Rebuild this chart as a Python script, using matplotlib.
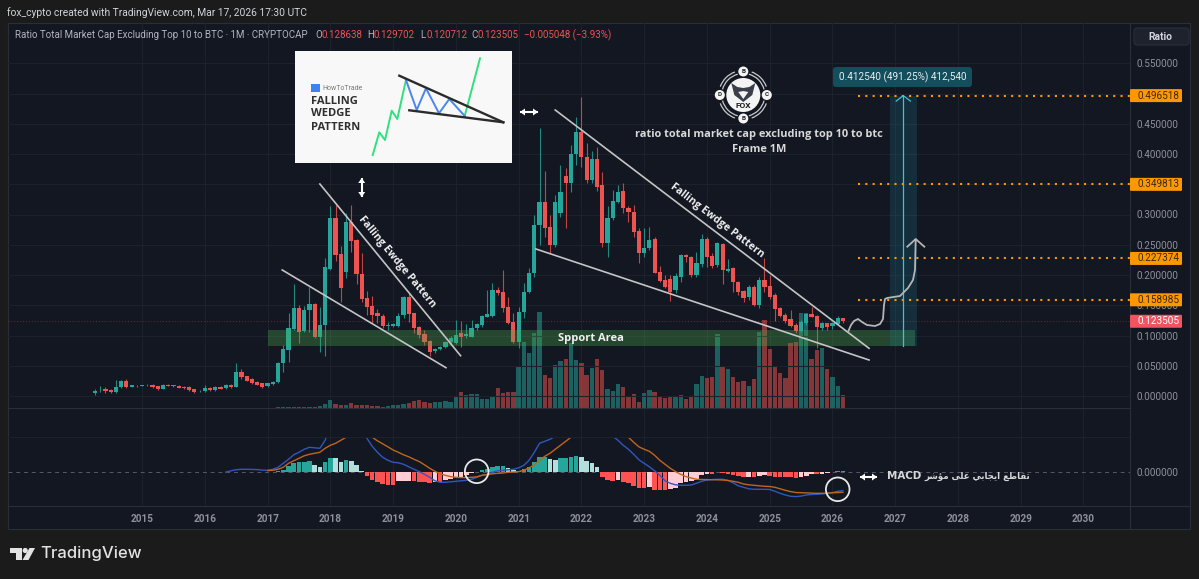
"""
Ratio Total Market Cap Excluding Top 10 to BTC, 1M chart with volume and MACD
"""

import numpy as np
import pandas as pd
import matplotlib
matplotlib.use("Agg")
import matplotlib.pyplot as plt
from matplotlib.patches import Rectangle, Circle, Polygon, FancyBboxPatch, Arc

# ── Data ─────────────────────────────────────────────────────────────────────
months = pd.date_range("2014-04-01", periods=144, freq="MS")

open_ = [
    .0055, .0093, .0116, .0099, .0060, .0143, .0242, .0154, .0165, .0165,
    .0176, .0181, .0159, .0121, .0181, .0165, .0170, .0154, .0149, .0110,
    .0077, .0077, .0132, .0099, .0154, .0132, .0181, .0149, .0402, .0325,
    .0281, .0231, .0209, .0165, .0198, .0231, .0551, .0760, .1102, .1460,
    .1074, .1416, .1526, .0969, .1168, .2105, .2937, .2347, .2044, .2881,
    .2578, .2016, .1614, .1493, .1377, .1328, .1163, .1157, .1163, .1333,
    .1631, .1366, .1146, .1025, .0909, .0749, .0777, .0804, .0898, .0881,
    .1036, .0992, .0981, .1118, .1179, .1311, .1322, .1752, .1724, .1465,
    .1217, .0898, .1394, .1724, .2027, .2826, .3201, .2799, .2496, .3019,
    .3636, .3526, .4000, .4358, .3945, .3570, .3912, .3482, .2523, .2936,
    .3212, .3394, .3102, .3047, .2733, .2369, .2441, .2595, .2055, .1917,
    .1928, .1752, .1972, .2330, .2303, .2000, .2176, .2589, .2319, .2165,
    .2512, .2072, .2110, .1890, .1735, .1631, .1807, .1509, .1917, .1823,
    .1664, .1449, .1339, .1267, .1174, .1080, .1201, .1355, .1322, .1130,
    .1201, .1157, .1190, .128638,
]
close = [
    .0088, .0099, .0088, .0060, .0149, .0242, .0143, .0176, .0159, .0176,
    .0187, .0143, .0116, .0181, .0170, .0176, .0137, .0132, .0093, .0060,
    .0088, .0132, .0099, .0149, .0121, .0181, .0143, .0402, .0308, .0253,
    .0209, .0187, .0154, .0209, .0236, .0551, .0777, .1118, .1460, .1052,
    .1416, .1526, .0969, .1168, .2127, .2937, .2331, .1779, .2881, .2562,
    .2011, .1603, .1476, .1339, .1328, .1157, .1173, .1190, .1328, .1642,
    .1355, .1129, .1008, .0887, .0733, .0771, .0815, .0898, .0964, .1008,
    .0981, .1019, .1129, .1184, .1322, .1349, .1752, .1697, .1449, .1201,
    .0887, .1394, .1724, .2038, .2826, .3201, .2782, .2496, .3212, .3366,
    .3526, .4000, .4358, .3945, .3570, .3912, .3460, .2523, .2936, .3229,
    .3366, .3102, .3036, .2716, .2369, .2441, .2578, .2038, .1906, .1807,
    .1724, .1989, .2330, .2292, .2000, .2193, .2589, .2292, .2154, .2523,
    .2083, .2094, .1879, .1713, .1614, .1796, .1509, .1917, .1807, .1631,
    .1438, .1328, .1240, .1163, .1080, .1218, .1355, .1311, .1146, .1201,
    .1135, .1201, .1284, .123505,
]
high = [
    .0110, .0165, .0143, .0110, .0264, .0264, .0275, .0187, .0176, .0187,
    .0198, .0192, .0170, .0198, .0192, .0187, .0181, .0165, .0160, .0121,
    .0099, .0176, .0143, .0165, .0165, .0198, .0192, .0551, .0451, .0336,
    .0292, .0242, .0220, .0220, .0247, .0570, .0843, .1377, .1846, .1504,
    .1487, .1796, .1542, .1465, .2275, .3140, .3157, .2479, .3030, .3157,
    .2600, .2358, .1735, .1653, .1432, .1355, .1229, .1212, .1366, .1653,
    .1697, .1377, .1157, .1091, .0926, .0788, .0826, .0914, .0992, .1256,
    .1245, .1190, .1256, .1212, .1339, .1752, .1862, .1807, .2082, .1642,
    .1366, .1476, .1862, .2110, .2992, .4424, .3724, .2992, .3322, .3818,
    .3763, .4149, .4617, .4950, .4187, .4055, .4121, .3708, .3140, .3405,
    .3488, .3515, .3140, .3157, .2771, .2771, .2799, .2622, .2149, .1999,
    .1999, .2027, .2342, .2347, .2314, .2386, .2678, .2622, .2369, .2551,
    .2534, .2259, .2138, .1906, .1752, .1834, .1834, .1961, .2275, .1999,
    .1697, .1465, .1366, .1421, .1201, .1256, .1377, .1476, .1339, .1229,
    .1212, .1229, .1322, .129702,
]
low = [
    .0016, .0066, .0055, .0050, .0050, .0127, .0132, .0143, .0148, .0159,
    .0165, .0132, .0105, .0110, .0159, .0154, .0126, .0121, .0082, .0049,
    .0066, .0066, .0088, .0088, .0110, .0121, .0132, .0143, .0286, .0242,
    .0198, .0176, .0132, .0154, .0187, .0220, .0402, .0567, .1091, .0881,
    .1063, .1063, .0953, .0733, .0661, .2083, .2237, .1559, .1945, .2386,
    .1851, .1559, .1339, .1201, .1201, .1118, .1091, .1146, .1146, .1284,
    .1229, .1036, .0953, .0843, .0661, .0705, .0760, .0788, .0843, .0859,
    .0815, .0953, .0970, .1091, .1146, .1311, .1311, .1669, .1394, .1190,
    .0870, .0788, .1284, .1697, .1972, .2496, .2633, .2358, .2468, .2964,
    .2771, .3377, .3818, .3790, .3526, .3515, .3394, .2468, .2292, .2909,
    .3184, .3019, .2881, .2622, .2204, .2303, .2413, .2027, .1890, .1779,
    .1576, .1708, .1890, .2220, .1961, .1972, .2127, .2127, .2110, .2138,
    .1846, .2055, .1724, .1669, .1559, .1587, .1493, .1449, .1724, .1598,
    .1245, .1311, .1201, .1146, .1036, .1064, .1174, .1300, .0788, .1091,
    .1091, .1102, .1174, .120712,
]
# relative volume
volume = [
    .3, .3, .3, .3, .3, .3, .3, .3, .3, .3,
    .3, .3, .3, .3, .3, .3, .3, .3, .3, .3,
    .3, .3, .3, .3, .3, .3, .4, .5, .5, .5,
    .5, .5, .5, .5, .5, .6, .6, 1, 1.2, 1.1,
    1, 1, 1, 2, 4.5, 8, 4, 3, 3, 5,
    3.5, 3, 3, 2, 2, 1.3, 2, 2.7, 3, 4,
    5.3, 7.3, 8, 6, 5.3, 5.7, 6, 7, 6.3, 11.3,
    16, 13.3, 13.7, 13.7, 9, 9, 12.3, 19.7, 14.7, 15.7,
    16, 41.3, 66.3, 55.3, 74.7, 95.7, 32.7, 30.3, 43, 47.3,
    48.7, 64.7, 48, 44.7, 33, 39.7, 48.7, 38, 18.7, 17,
    23.7, 21, 11.3, 13.7, 6.3, 15.3, 18, 15.7, 12.3, 10,
    11.3, 12, 13.3, 9.3, 12, 24, 32, 29.7, 31.3, 74,
    42, 38.7, 30.7, 26.3, 27, 22, 29.3, 76.3, 88, 58.7,
    41.3, 34.7, 29.7, 64.7, 66.3, 95.3, 95.3, 49, 58, 59.7,
    39, 31.3, 22.3, 12.7,
]

# MACD, in thousandths. The MACD line starts at bar 25, signal and histogram at bar 33
macd_line = [
    .2, 1.5, 2.6, 3, 3, 2.9, 2.7, 2.2, 2, 3,
    5, 9, 13, 17.5, 20, 23, 25, 24.5, 24, 32,
    46, 56, 60, 63, 62, 55, 44, 34, 26, 20,
    15, 12, 10, 9.5, 8, 5.5, 3, .7, -2, -5,
    -8.5, -10, -10, -9.5, -9, -8.5, -8, -7, -5, -3,
    -2, 0, 1.5, 2, 2.5, 3, 4.5, 7, 12, 20,
    29, 31, 33, 36, 42, 50, 58, 62, 63, 62,
    60, 55, 50, 43, 36, 32, 27, 23, 18, 12.5,
    9, 5.5, 1.5, -3, -8.5, -11, -12.5, -13, -13, -12.7,
    -11, -9, -7.7, -7.3, -7, -7, -8, -10.5, -13.5, -15,
    -16.5, -17, -17, -17, -17.2, -19, -21, -22.7, -24, -24.3,
    -23.8, -22.7, -22.2, -22, -21.7, -21, -20.3, -19, -18.3,
]
signal_line = [
    1.7, 2, 3, 5, 9, 11.5, 14, 16.5, 18, 19,
    20, 24, 27, 29, 32, 35, 40, 45, 43, 38,
    35, 31.5, 28.5, 25.5, 22.3, 20, 17.5, 15.5, 13, 10.7,
    7.5, 4, 1, -1.5, -3, -4.3, -5, -5.3, -5.3, -5,
    -4.5, -3, -2.3, -1.5, -1, -.7, 0, .2, .7, 2,
    4.5, 7.3, 12, 16, 19, 23, 27, 31, 35, 40,
    45, 48, 50, 50, 48, 46, 44, 41, 38, 35,
    30, 25.5, 23, 21, 17, 12, 8, 4, .7, -2,
    -4.3, -5.7, -7, -7.2, -7.3, -7.4, -7.5, -7.7, -8.2, -9,
    -10, -11.7, -12.5, -13, -13.5, -14, -14.2, -15, -16.5, -18,
    -19.3, -20.2, -20.4, -20.6, -20.8, -21, -21, -20.8, -20.5, -20.2,
    -20,
]
macd_hist = [
    .3, .6, 1, 2.3, 6.3, 9.7, 10, 10.3, 11, 7.7,
    5.7, 10, 14.7, 14.3, 10, 12, 11.7, 7.3, 1.7, -3.7,
    -7.7, -9.7, -12, -13, -13, -9, -8.8, -8.6, -9, -9.5,
    -10, -11, -9.3, -9.3, -7.7, -7, -5, -4.3, -2.7, -1,
    .2, 2, 3, 5.7, 6.3, 6.3, 4.7, 2.3, 1.7, 3,
    5.7, 10.7, 15.7, 15.7, 13, 12.3, 14, 14.3, 15.7, 16.7,
    15.7, 11.3, 9, 5, -4.3, -7.7, -8.3, -7.7, -9.3, -10.3,
    -13.3, -16, -16, -14.3, -17.7, -17.7, -17.7, -17, -16, -11,
    -9.3, -8.3, -7.7, -2.7, -2, -2, .7, -.7, -1.3, -2.7,
    -3.3, -4.7, -4.3, -5, -3.7, -2.3, -3.3, -4.3, -4.7, -5,
    -5, -5.3, -4.3, -3.3, -2, -2, -1.3, -.3, .7, 1.3,
    1.7,
]

years = list(range(2015, 2031))
price_ticks = [0, .05, .10, .15, .20, .25, .30, .35, .40, .45, .50, .55]
target_levels = [.496518, .349813, .227374, .158985]
last_price = .123505

wedge_lines = [
    ((43.0, .3504), (69.9, .0666)),
    ((35.8, .2083), (67.1, .0468)),
    ((88.0, .4727), (148.0, .0788)),
    ((84.3, .2430), (148.0, .0595)),
]
support_zone = (.0826, .1091)

assert len(open_) == len(close) == len(high) == len(low) == len(volume) == 144
assert len(macd_line) == 119 and len(signal_line) == 111 and len(macd_hist) == 111

# ── Style ────────────────────────────────────────────────────────────────────
plt.rcParams["font.family"] = ["Roboto", "DejaVu Sans"]
W, H = 1199, 579
OUTER = "#1b1b1b"
PANE = "#131722"
GRID = "#1d212c"
BORDER = "#2a2e39"
UP = "#26a69a"
DOWN = "#ef5350"
SCALE_TXT = "#8e919a"
ORANGE = "#ff9800"
TXT_SIZE = 7.2

PX0, PX_STEP = 95.0, 5.23     # px of the first bar, px per bar
PY0, PY_UNIT = 396.0, 605.0   # px of price 0, px per price unit


def py(v):
    return PY0 - PY_UNIT * v


def pane(x0, y0, x1, y1, **kw):
    return fig.add_axes([x0 / W, 1 - y1 / H, (x1 - x0) / W, (y1 - y0) / H], **kw)


fig = plt.figure(figsize=(W / 100, H / 100), dpi=100, facecolor=OUTER)
x = np.arange(len(months))
xlim = ((8 - PX0) / PX_STEP, (1130 - PX0) / PX_STEP)
year_pos = [(y - 2014) * 12 - 3 for y in years]
colors = [UP if c >= o else DOWN for o, c in zip(open_, close)]

# pane background including price and time scales
bg = pane(8, 23, 1190, 529, zorder=0, facecolor=PANE)
bg.set_xticks([]); bg.set_yticks([])
for s in bg.spines.values():
    s.set_color(BORDER); s.set_linewidth(0.8)

# ── Volume (under the candles) ───────────────────────────────────────────────
ax_vol = pane(8, 23, 1130, 437, zorder=1)
ax_vol.set_facecolor("none")
ax_vol.bar(x, volume, width=0.82, color=colors, alpha=0.52, linewidth=0)
ax_vol.set_xlim(xlim)
ax_vol.set_ylim(-29, 385)
ax_vol.set_xticks(year_pos)
ax_vol.set_yticks([])
ax_vol.tick_params(length=0, labelbottom=False)
ax_vol.grid(axis="x", color=GRID, linewidth=0.8)
ax_vol.set_axisbelow(True)
for s in ax_vol.spines.values():
    s.set_visible(False)

# ── Candles ──────────────────────────────────────────────────────────────────
ax = pane(8, 23, 1130, 437, zorder=2)
ax.set_facecolor("none")
ax.set_xlim(xlim)
ax.set_ylim((PY0 - 437) / PY_UNIT, (PY0 - 23) / PY_UNIT)
ax.set_xticks([])
ax.set_yticks(price_ticks)
ax.set_yticklabels([f"{t:.6f}" for t in price_ticks], color=SCALE_TXT, fontsize=TXT_SIZE)
ax.yaxis.tick_right()
ax.tick_params(axis="y", length=0, pad=5)
ax.grid(axis="y", color=GRID, linewidth=0.8)
ax.set_axisbelow(True)
for s in ax.spines.values():
    s.set_visible(False)

ax.axhline(last_price, color=DOWN, alpha=0.35, linewidth=0.7, linestyle=(0, (1, 2)), zorder=1)
ax.vlines(x, low, high, color=colors, linewidth=0.8, alpha=0.8, zorder=3)
ax.bar(x, np.abs(np.array(close) - np.array(open_)), bottom=np.minimum(open_, close),
       width=0.8, color=colors, linewidth=0, zorder=4)

# ── Drawings on the chart ────────────────────────────────────────────────────
ax.add_patch(Rectangle((33.1, support_zone[0]), 123.7, support_zone[1] - support_zone[0],
                       facecolor="#4caf50", alpha=0.32, linewidth=0, zorder=5))
for a, b in wedge_lines:
    ax.plot([a[0], b[0]], [a[1], b[1]], color="#c4c4c4", linewidth=1.2, zorder=6)

for lvl in target_levels:
    ax.plot([145.9, xlim[1]], [lvl, lvl], color=ORANGE, linewidth=1.5,
            linestyle=(0, (1, 2.5)), zorder=6)

# price range measure
ax.add_patch(Rectangle((152, support_zone[0]), 5.1, target_levels[0] - support_zone[0],
                       facecolor="#1f8fa8", alpha=0.2, linewidth=0, zorder=5))
ax.plot([154.55, 154.55], [support_zone[0], target_levels[0]], color="#3fc1d6", linewidth=0.9, zorder=7)
ax.plot([153.2, 154.55, 155.9], [.4875, target_levels[0], .4875], color="#3fc1d6", linewidth=0.9, zorder=7)

# ── MACD pane ────────────────────────────────────────────────────────────────
ax_m = pane(8, 437, 1130, 506, zorder=2)
ax_m.set_facecolor("none")
hist_colors = []
for i, h in enumerate(macd_hist):
    prev = macd_hist[i - 1] if i else 0
    if h >= 0:
        hist_colors.append("#26a69a" if h >= prev else "#b2dfdb")
    else:
        hist_colors.append("#ff5252" if h <= prev else "#ffcdd2")
ax_m.bar(x[33:], macd_hist, width=0.88, color=hist_colors, linewidth=0, zorder=2)
ax_m.plot(x[25:], macd_line, color="#2f57c0", linewidth=1.0, zorder=3)
ax_m.plot(x[33:], signal_line, color="#c0651c", linewidth=1.0, zorder=3)
ax_m.axhline(0, color="#565a66", linewidth=0.7, linestyle=(0, (4, 4)), zorder=1)
ax_m.set_xlim(xlim)
ax_m.set_ylim(-33.7, 35.3)
ax_m.set_xticks(year_pos)
ax_m.set_xticklabels(years, color=SCALE_TXT, fontsize=TXT_SIZE, fontweight="bold")
ax_m.set_yticks([0])
ax_m.set_yticklabels(["0.000000"], color=SCALE_TXT, fontsize=TXT_SIZE)
ax_m.yaxis.tick_right()
ax_m.tick_params(axis="y", length=0, pad=5)
ax_m.tick_params(axis="x", length=0, pad=5.5)
ax_m.grid(axis="x", color=GRID, linewidth=0.8)
ax_m.set_axisbelow(True)
for s in ax_m.spines.values():
    s.set_visible(False)

# ── Overlay in figure pixels: furniture, tags, inset, logo ───────────────────
ov = fig.add_axes([0, 0, 1, 1], zorder=10)
ov.set_xlim(0, W)
ov.set_ylim(H, 0)
ov.axis("off")

for seg, c in [(((8, 1130), (408, 408)), BORDER), (((8, 1130), (437, 437)), GRID),
               (((8, 1190), (506, 506)), BORDER), (((1130, 1130), (23, 529)), BORDER)]:
    ov.plot(seg[0], seg[1], color=c, linewidth=0.8, zorder=1)

ov.text(7, 13, "fox_cypto created with TradingView.com, Mar 17, 2026 17:30 UTC",
        color="#d1d4dc", fontsize=7.4, va="center")
ov.text(15, 35, "Ratio Total Market Cap Excluding Top 10 to BTC · 1M · CRYPTOCAP",
        color="#b2b5be", fontsize=7.0, va="center")
for xp, letter, val in [(315, "O", "0.128638"), (367, "H", "0.129702"),
                        (420, "L", "0.120712"), (471, "C", "0.123505")]:
    ov.text(xp, 35, letter, color="#b2b5be", fontsize=7.0, va="center")
    ov.text(xp + 6.5, 35, val, color=DOWN, fontsize=7.0, va="center")
ov.text(524, 35, "−0.005048 (−3.93%)", color=DOWN, fontsize=7.0, va="center")

# Ratio button
ov.add_patch(FancyBboxPatch((1134, 28), 55, 17, boxstyle="round,pad=0,rounding_size=3",
                            facecolor="#1e222d", edgecolor=BORDER, linewidth=0.8))
ov.text(1148, 36.5, "Ratio", color="#d1d4dc", fontsize=7.4, va="center", fontweight="bold")

# price tags
for lvl in target_levels:
    ov.add_patch(FancyBboxPatch((1130, py(lvl) - 6.5), 52, 13, boxstyle="round,pad=0,rounding_size=1",
                                facecolor=ORANGE, edgecolor="none"))
    ov.text(1137, py(lvl), f"{lvl:.6f}", color="#3a2a10", fontsize=TXT_SIZE, va="center")
ov.add_patch(FancyBboxPatch((1130, py(last_price) - 6.5), 52, 13, boxstyle="round,pad=0,rounding_size=1",
                            facecolor="#f2545f", edgecolor="none"))
ov.text(1137, py(last_price), f"{last_price:.6f}", color="white", fontsize=TXT_SIZE, va="center")

# measure label
ov.add_patch(FancyBboxPatch((833, 67), 139, 20, boxstyle="round,pad=0,rounding_size=3",
                            facecolor="#124e5c", edgecolor="none"))
ov.text(902.5, 77, "0.412540 (491.25%) 412,540", color="#e6eef0", fontsize=TXT_SIZE,
        ha="center", va="center")

# hand drawn path to the target
sketch_x = [848, 851, 854, 858, 862, 867, 875, 880, 883, 884, 885, 887, 900, 908, 913, 915, 915.7]
sketch_y = [332, 325, 321, 319, 322, 325, 326, 324, 319, 305, 299, 298, 296, 288, 280, 270, 240]
ov.plot(sketch_x, sketch_y, color="#b5b5b5", linewidth=1.3, solid_joinstyle="round")
ov.plot([907.3, 915.7, 924.3], [246.7, 239, 246.7], color="#b5b5b5", linewidth=1.3)

# annotation texts
ov.text(591, 338, "Spport Area", color="#f0f0f0", fontsize=8, fontweight="bold",
        family="Open Sans", ha="center", va="center")
ov.text(397, 262, "Falling Ewdge Pattern", color="#f0f0f0", fontsize=7.6, fontweight="bold",
        family="Open Sans", ha="center", va="center", rotation=-50.5, rotation_mode="anchor")
ov.text(717, 221, "Falling Ewdge Pattern", color="#f0f0f0", fontsize=7.6, fontweight="bold",
        family="Open Sans", ha="center", va="center", rotation=-37.5, rotation_mode="anchor")
ov.text(759, 134, "ratio total market cap excluding top 10 to btc", color="#d8d8d8", fontsize=7.9,
        fontweight="bold", family="Open Sans", ha="center", va="center")
ov.text(759, 149, "Frame 1M", color="#d8d8d8", fontsize=7.9, fontweight="bold",
        family="Open Sans", ha="center", va="center")

# white double arrows: shaft and two small heads
for (x0, y0), (x1, y1) in [((361.7, 178), (361.7, 197)), ((520, 112), (538, 112)), ((860, 477), (877, 477))]:
    ov.plot([x0, x1], [y0, y1], color="white", linewidth=1.5, solid_capstyle="butt")
    ux, uy = (x1 - x0) / np.hypot(x1 - x0, y1 - y0), (y1 - y0) / np.hypot(x1 - x0, y1 - y0)
    for tx, ty, sgn in [(x0, y0, 1), (x1, y1, -1)]:
        bx, by = tx + sgn * ux * 5, ty + sgn * uy * 5
        ov.add_patch(Polygon([(tx, ty), (bx - uy * 3.5, by + ux * 3.5), (bx + uy * 3.5, by - ux * 3.5)],
                             facecolor="white", edgecolor="none"))

# MACD crossing circles
for cx, cy in [(476.7, 471.3), (837.7, 489.3)]:
    ov.add_patch(Circle((cx, cy), 11.8, fill=False, edgecolor="#e8e8e8", linewidth=1.3))

# تقاطع ايجابي على مؤشر MACD (shaped, visual order)
macd_note = ("\ufeae\ufeb7\ufe86\ufee3 \ufef0\ufee0\ufecb "
             "\ufef2\ufe91\ufe8e\ufea0\ufef3\ufe8d \ufeca\ufec3\ufe8e\ufed8\ufe97")
ov.text(887, 476, "MACD", color="#d8d8d8", fontsize=7.4, fontweight="bold",
        family="DejaVu Sans", va="center")
ov.text(1030, 476, macd_note, color="#d8d8d8", fontsize=6.2, fontweight="bold",
        family="DejaVu Sans", va="center", ha="right")

# inset picture of the pattern
ov.add_patch(Rectangle((295, 50.5), 217, 112, facecolor="#f8f8f8", edgecolor="none", zorder=2))
ov.plot([372.7, 379.3, 385, 391.7, 397.3, 406], [155, 132.3, 140, 110.7, 119, 80],
        color="#2fe07f", linewidth=1.4, zorder=3)
ov.plot([464.7, 480], [116, 58.3], color="#2fe07f", linewidth=1.4, zorder=3)
ov.plot([406, 416.7, 426, 439, 449.3, 464.7], [80, 110, 88.3, 113.3, 99, 116],
        color="#4a86ee", linewidth=1.4, zorder=3)
ov.plot([399.3, 503.3], [75.7, 122.3], color="#2b2b2b", linewidth=1.7, zorder=4)
ov.plot([409.3, 503.3], [110.3, 122.3], color="#2b2b2b", linewidth=1.7, zorder=4)
ov.add_patch(Rectangle((311, 84), 9, 8, facecolor="#3d82f0", edgecolor="none", zorder=3))
ov.text(322, 88, "HowToTrade", color="#7a7a7a", fontsize=5, va="center", zorder=3)
for yp, word in [(101, "FALLING"), (114, "WEDGE"), (127, "PATTERN")]:
    ov.text(311, yp, word, color="#303030", fontsize=8, fontweight="bold",
            family="Open Sans", va="center", zorder=3)

# fox logo
logo_x, logo_y = 743.3, 95
for r, a0, a1 in [(21.5, 15, 75), (21.5, 105, 165), (21.5, 195, 255), (21.5, 285, 345),
                  (24.5, 20, 70), (24.5, 110, 160), (24.5, 200, 250), (24.5, 290, 340)]:
    ov.add_patch(Arc((logo_x, logo_y), 2 * r, 2 * r, theta1=a0, theta2=a1, color="#c8c8c8", linewidth=0.9))
ov.add_patch(Circle((logo_x, logo_y), 17, facecolor="#f4f4f4", edgecolor="none", zorder=3))
for dx, dy, ch in [(0, -23.5, "B"), (0, 23.5, "B"), (-23.5, 0, "D"), (23.5, 0, "C")]:
    ov.add_patch(Circle((logo_x + dx, logo_y + dy), 5, facecolor="#f4f4f4", edgecolor="none", zorder=3))
    ov.text(logo_x + dx, logo_y + dy, ch, color="#222222", fontsize=4.6, fontweight="bold",
            ha="center", va="center", zorder=4)
fox_x = [-12, -6, 0, 6, 12, 9, 0, -9]
fox_y = [-12, -8, -7, -8, -12, 0, 7, 0]
ov.add_patch(Polygon(np.c_[logo_x + np.array(fox_x), logo_y + np.array(fox_y)],
                     facecolor="#3a3f4a", edgecolor="none", zorder=4))
ov.add_patch(Polygon(np.c_[logo_x + np.array([-5, 0, 5, 0]), logo_y + np.array([-3, -4, -3, 4])],
                     facecolor="#f4f4f4", edgecolor="none", zorder=5))
ov.text(logo_x, logo_y + 11, "FOX", color="#1d1d1d", fontsize=6, fontweight="bold",
        ha="center", va="center", zorder=5)

# TradingView mark
for pts in [[(10, 548), (21.5, 548), (21.5, 560), (15.5, 560), (15.5, 552.5), (10, 552.5)],
            [(29.5, 548), (35, 548), (28.5, 560), (22.5, 560)]]:
    ov.add_patch(Polygon(pts, facecolor="#e3e3e3", edgecolor="none"))
ov.add_patch(Circle((25.2, 550.5), 2.6, facecolor="#e3e3e3", edgecolor="none"))
ov.text(40.5, 553.5, "TradingView", color="#e3e3e3", fontsize=12, va="center",
        family="Inter", fontweight="medium")

fig.savefig("out.png", dpi=100, facecolor=OUTER)
